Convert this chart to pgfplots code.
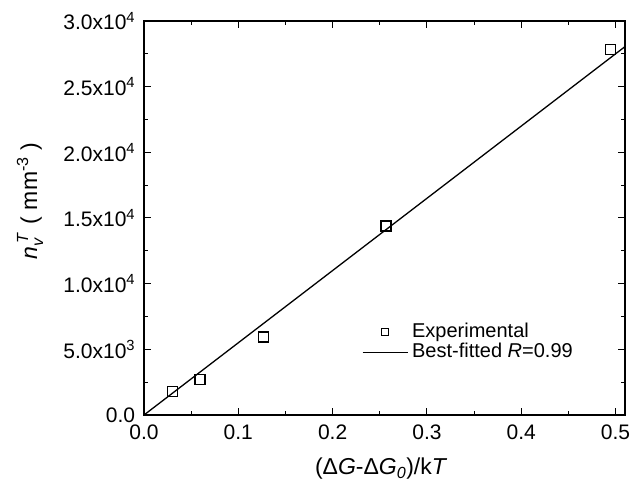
\documentclass[border=0pt]{standalone}
\usepackage{fontspec}
\setmainfont{Liberation Sans}
\usepackage{amsmath}
\usepackage{pgfplots}
\pgfplotsset{compat=1.18}
\begin{document}
\fontsize{20bp}{24bp}\selectfont
\begin{tikzpicture}
\begin{axis}[
 scale only axis, width=481bp, height=394bp,
 xmin=0, xmax=0.51, ymin=0, ymax=30000,
 xtick={0,0.1,0.2,0.3,0.4,0.5}, xticklabels={0.0,0.1,0.2,0.3,0.4,0.5},
 ytick={0,5000,10000,15000,20000,25000,30000},
 yticklabels={0.0, 5.0x10\textsuperscript{3}, 1.0x10\textsuperscript{4}, 1.5x10\textsuperscript{4}, 2.0x10\textsuperscript{4}, 2.5x10\textsuperscript{4}, 3.0x10\textsuperscript{4}},
 minor x tick num=1, minor y tick num=1,
 tick align=inside, major tick length=7bp, minor tick length=4bp,
 axis line style={line width=1.3bp},
 every tick/.style={line width=1bp, black},
 ticklabel style={font=\fontsize{21bp}{25bp}\selectfont},
 xticklabel style={yshift=-3bp},
 yticklabel style={xshift=-2bp},
 scaled y ticks=false,
 xlabel={(Δ\textit{G}-Δ\textit{G}$_{\text{\textit{0}}}$)/k\textit{T}},
 ylabel={$\text{\textit{n}}_{\text{\textit{v}}}^{\hspace{3bp}\text{\textit{T}}}$\hspace{0.35em}(\hspace{0.3em}mm\textsuperscript{-3}\hspace{0.3em})},
 xlabel style={at={(rel axis cs:0.493,-0.137)}, anchor=center, font=\fontsize{23bp}{27bp}\selectfont},
 ylabel style={at={(rel axis cs:-0.237,0.543)}, anchor=center, font=\fontsize{23bp}{27bp}\selectfont},
 legend style={draw=none, fill=none, at={(rel axis cs:0.4525,0.237)}, anchor=north west,
   font=\fontsize{20bp}{22bp}\selectfont, row sep=0bp, inner sep=0pt,
   nodes={inner sep=1bp, text depth=0.2em}},
 legend cell align=left,
 legend image code/.code={\draw[mark repeat=2,mark phase=2,#1] plot coordinates {(0bp,0bp) (22.5bp,0bp) (45bp,0bp)};},
]
\addlegendimage{only marks, mark=square, mark size=3.6bp, mark options={line width=1.1bp, black}}
\addlegendentry{\hspace{3bp}Experimental}
\addlegendimage{black, line width=1.3bp}
\addlegendentry{\hspace{3bp}Best-fitted \textit{R}=0.99}
\addplot[forget plot, only marks, mark=square, mark size=5bp, mark options={line width=1.1bp, black}]
 coordinates {(-0.001,1070) (0.030,1805) (0.0594,2720) (0.127,5940) (0.2566,14390) (0.495,27845)};
\addplot[forget plot, black, line width=1.3bp] coordinates {(0,0) (0.51,28050)};
\coordinate (sw) at (rel axis cs:0,0);
\coordinate (ne) at (rel axis cs:1,1);
\end{axis}
\pgfresetboundingbox
\path ([shift={(-144bp,-73bp)}]sw) rectangle ([shift={(7bp,21bp)}]ne);
\end{tikzpicture}
\end{document}
